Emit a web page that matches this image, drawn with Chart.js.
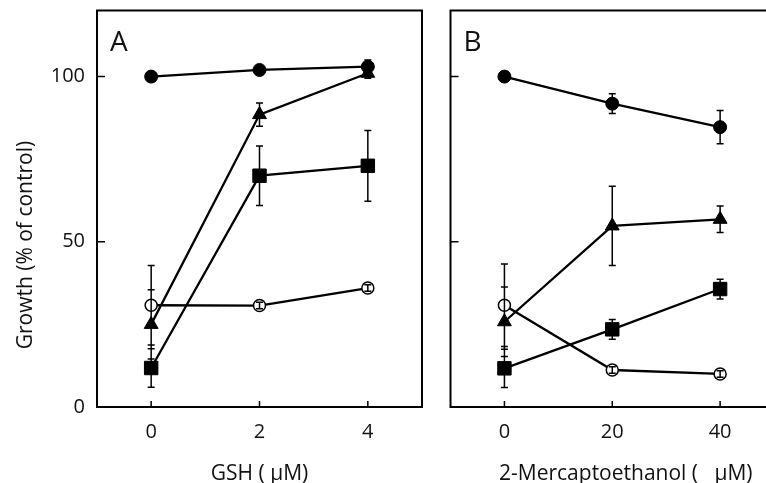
<!DOCTYPE html>
<html>
<head>
<meta charset="utf-8">
<script src="https://cdn.jsdelivr.net/npm/chart.js@4.4.1/dist/chart.umd.min.js"></script>
<style>
  html, body { margin: 0; padding: 0; background: #fff; overflow: hidden; }
  #wrap { position: relative; width: 766px; height: 483px; overflow: hidden; }
  #cA { position: absolute; left: 0; top: 0; }
  #cB { position: absolute; left: 440px; top: 0; }
</style>
</head>
<body>
<div id="wrap">
  <canvas id="cA" width="440" height="483"></canvas>
  <canvas id="cB" width="400" height="483"></canvas>
</div>
<script>
// panel A: GSH
const xA = [0, 2, 4];
const closedA = [100, 102, 103];
const closedErrA = [0, 1, 2];
const triA = [25, 88.5, 101];
const triErrA = [10.5, 3.5, 1.5];
const squareA = [11.8, 70, 73];
const squareErrA = [5.8, 9, 10.7];
const openA = [30.8, 30.7, 36];
const openErrA = [12, 1, 1];

// panel B: 2-mercaptoethanol
const xB = [0, 20, 40];
const closedB = [100, 91.8, 84.7];
const closedErrB = [0, 3, 5];
const triB = [25.8, 54.8, 56.8];
const triErrB = [10.5, 12, 4];
const squareB = [11.7, 23.5, 35.7];
const squareErrB = [5.8, 3, 3];
const openB = [30.8, 11.2, 10];
const openErrB = [12.5, 1, 1];

const yTicks = [0, 50, 100];
const xTicksA = [0, 2, 4];
const xTicksB = [0, 20, 40];

const FONT = '"Open Sans", "DejaVu Sans", sans-serif';
const INK = '#111';

// frame, inward tick marks, error bars, panel letter, y title
const panelPlugin = {
  id: 'panel',
  afterDatasetsDraw(chart, args, opts) {
    const {ctx, chartArea: a, scales: {x, y}} = chart;
    ctx.save();
    ctx.strokeStyle = '#000';
    ctx.lineWidth = 2;
    ctx.strokeRect(a.left, a.top, a.right - a.left, a.bottom - a.top);

    ctx.lineWidth = 1.5;
    ctx.beginPath();
    y.ticks.forEach(t => {
      const py = y.getPixelForValue(t.value);
      ctx.moveTo(a.left, py);
      ctx.lineTo(a.left + 8, py);
    });
    x.ticks.forEach(t => {
      const px = x.getPixelForValue(t.value);
      ctx.moveTo(px, a.bottom);
      ctx.lineTo(px, a.bottom - 6);
    });
    chart.data.datasets.forEach((ds, i) => {
      const meta = chart.getDatasetMeta(i);
      ds.errors.forEach((e, j) => {
        if (!e) return;
        const v = ds.data[j].y;
        const px = meta.data[j].x;
        const top = y.getPixelForValue(v + e);
        const bot = y.getPixelForValue(v - e);
        ctx.moveTo(px, top); ctx.lineTo(px, bot);
        ctx.moveTo(px - 3.5, top); ctx.lineTo(px + 3.5, top);
        ctx.moveTo(px - 3.5, bot); ctx.lineTo(px + 3.5, bot);
      });
    });
    ctx.stroke();

    ctx.fillStyle = INK;
    ctx.font = '28px ' + FONT;
    ctx.textBaseline = 'alphabetic';
    ctx.fillText(opts.label, a.left + 13, a.top + 40);

    if (opts.yTitle) {
      ctx.font = '21px ' + FONT;
      ctx.translate(32, y.getPixelForValue(opts.yTitleAt));
      ctx.rotate(-Math.PI / 2);
      ctx.textAlign = 'center';
      ctx.fillText(opts.yTitle, 0, 0);
    }
    ctx.restore();
  }
};

function series(xs, ys, errs, style) {
  return Object.assign({
    data: xs.map((x, i) => ({x: x, y: ys[i]})),
    errors: errs,
    borderColor: '#000',
    borderWidth: 2.3,
    pointBorderColor: '#000',
    pointBorderWidth: 1,
    pointBackgroundColor: '#000',
  }, style);
}

function makePanel(id, xs, sets, xMin, xMax, xTicks, xTitle, label, yTitle, yWidth, padRight) {
  const showY = !!yTitle;
  return new Chart(document.getElementById(id), {
    type: 'line',
    data: {
      datasets: [
        series(xs, sets[0][0], sets[0][1], {pointStyle: 'circle', pointRadius: 6.5}),
        series(xs, sets[1][0], sets[1][1], {pointStyle: 'triangle', pointRadius: 8}),
        series(xs, sets[2][0], sets[2][1], {pointStyle: 'rect', pointRadius: 9.5}),
        series(xs, sets[3][0], sets[3][1], {pointStyle: 'circle', pointRadius: 6,
          pointBackgroundColor: '#fff', pointBorderWidth: 1.5}),
      ]
    },
    options: {
      responsive: false,
      animation: false,
      layout: {padding: {top: 10, right: padRight, left: 0, bottom: 0}},
      plugins: {
        legend: {display: false},
        tooltip: {enabled: false},
        panel: {label: label, yTitle: yTitle, yTitleAt: 49}
      },
      scales: {
        x: {
          type: 'linear',
          min: xMin,
          max: xMax,
          afterBuildTicks: s => { s.ticks = xTicks.map(v => ({value: v})); },
          afterFit: s => { s.height = 76; s.paddingLeft = 0; s.paddingRight = 0; },
          grid: {display: false, drawTicks: false},
          border: {display: false},
          ticks: {color: INK, font: {family: FONT, size: 20}, padding: 13},
          title: {display: true, text: xTitle, color: INK,
            font: {family: FONT, size: 21, lineHeight: 0.9}, padding: {top: 0, bottom: 0}}
        },
        y: {
          min: 0,
          max: 120,
          afterBuildTicks: s => { s.ticks = yTicks.map(v => ({value: v})); },
          afterFit: s => { s.width = yWidth; s.paddingTop = 0; s.paddingBottom = 0; },
          grid: {display: false, drawTicks: false},
          border: {display: false},
          ticks: {display: showY, color: INK, font: {family: FONT, size: 20}, padding: 12}
        }
      }
    },
    plugins: [panelPlugin]
  });
}

makePanel('cA', xA,
  [[closedA, closedErrA], [triA, triErrA], [squareA, squareErrA], [openA, openErrA]],
  -1, 5, xTicksA, 'GSH ( μM)', 'A', 'Growth (% of control)', 97, 18);

makePanel('cB', xB,
  [[closedB, closedErrB], [triB, triErrB], [squareB, squareErrB], [openB, openErrB]],
  -10, 55, xTicksB, '2-Mercaptoethanol (   μM)', 'B', null, 9, 39);
</script>
</body>
</html>
